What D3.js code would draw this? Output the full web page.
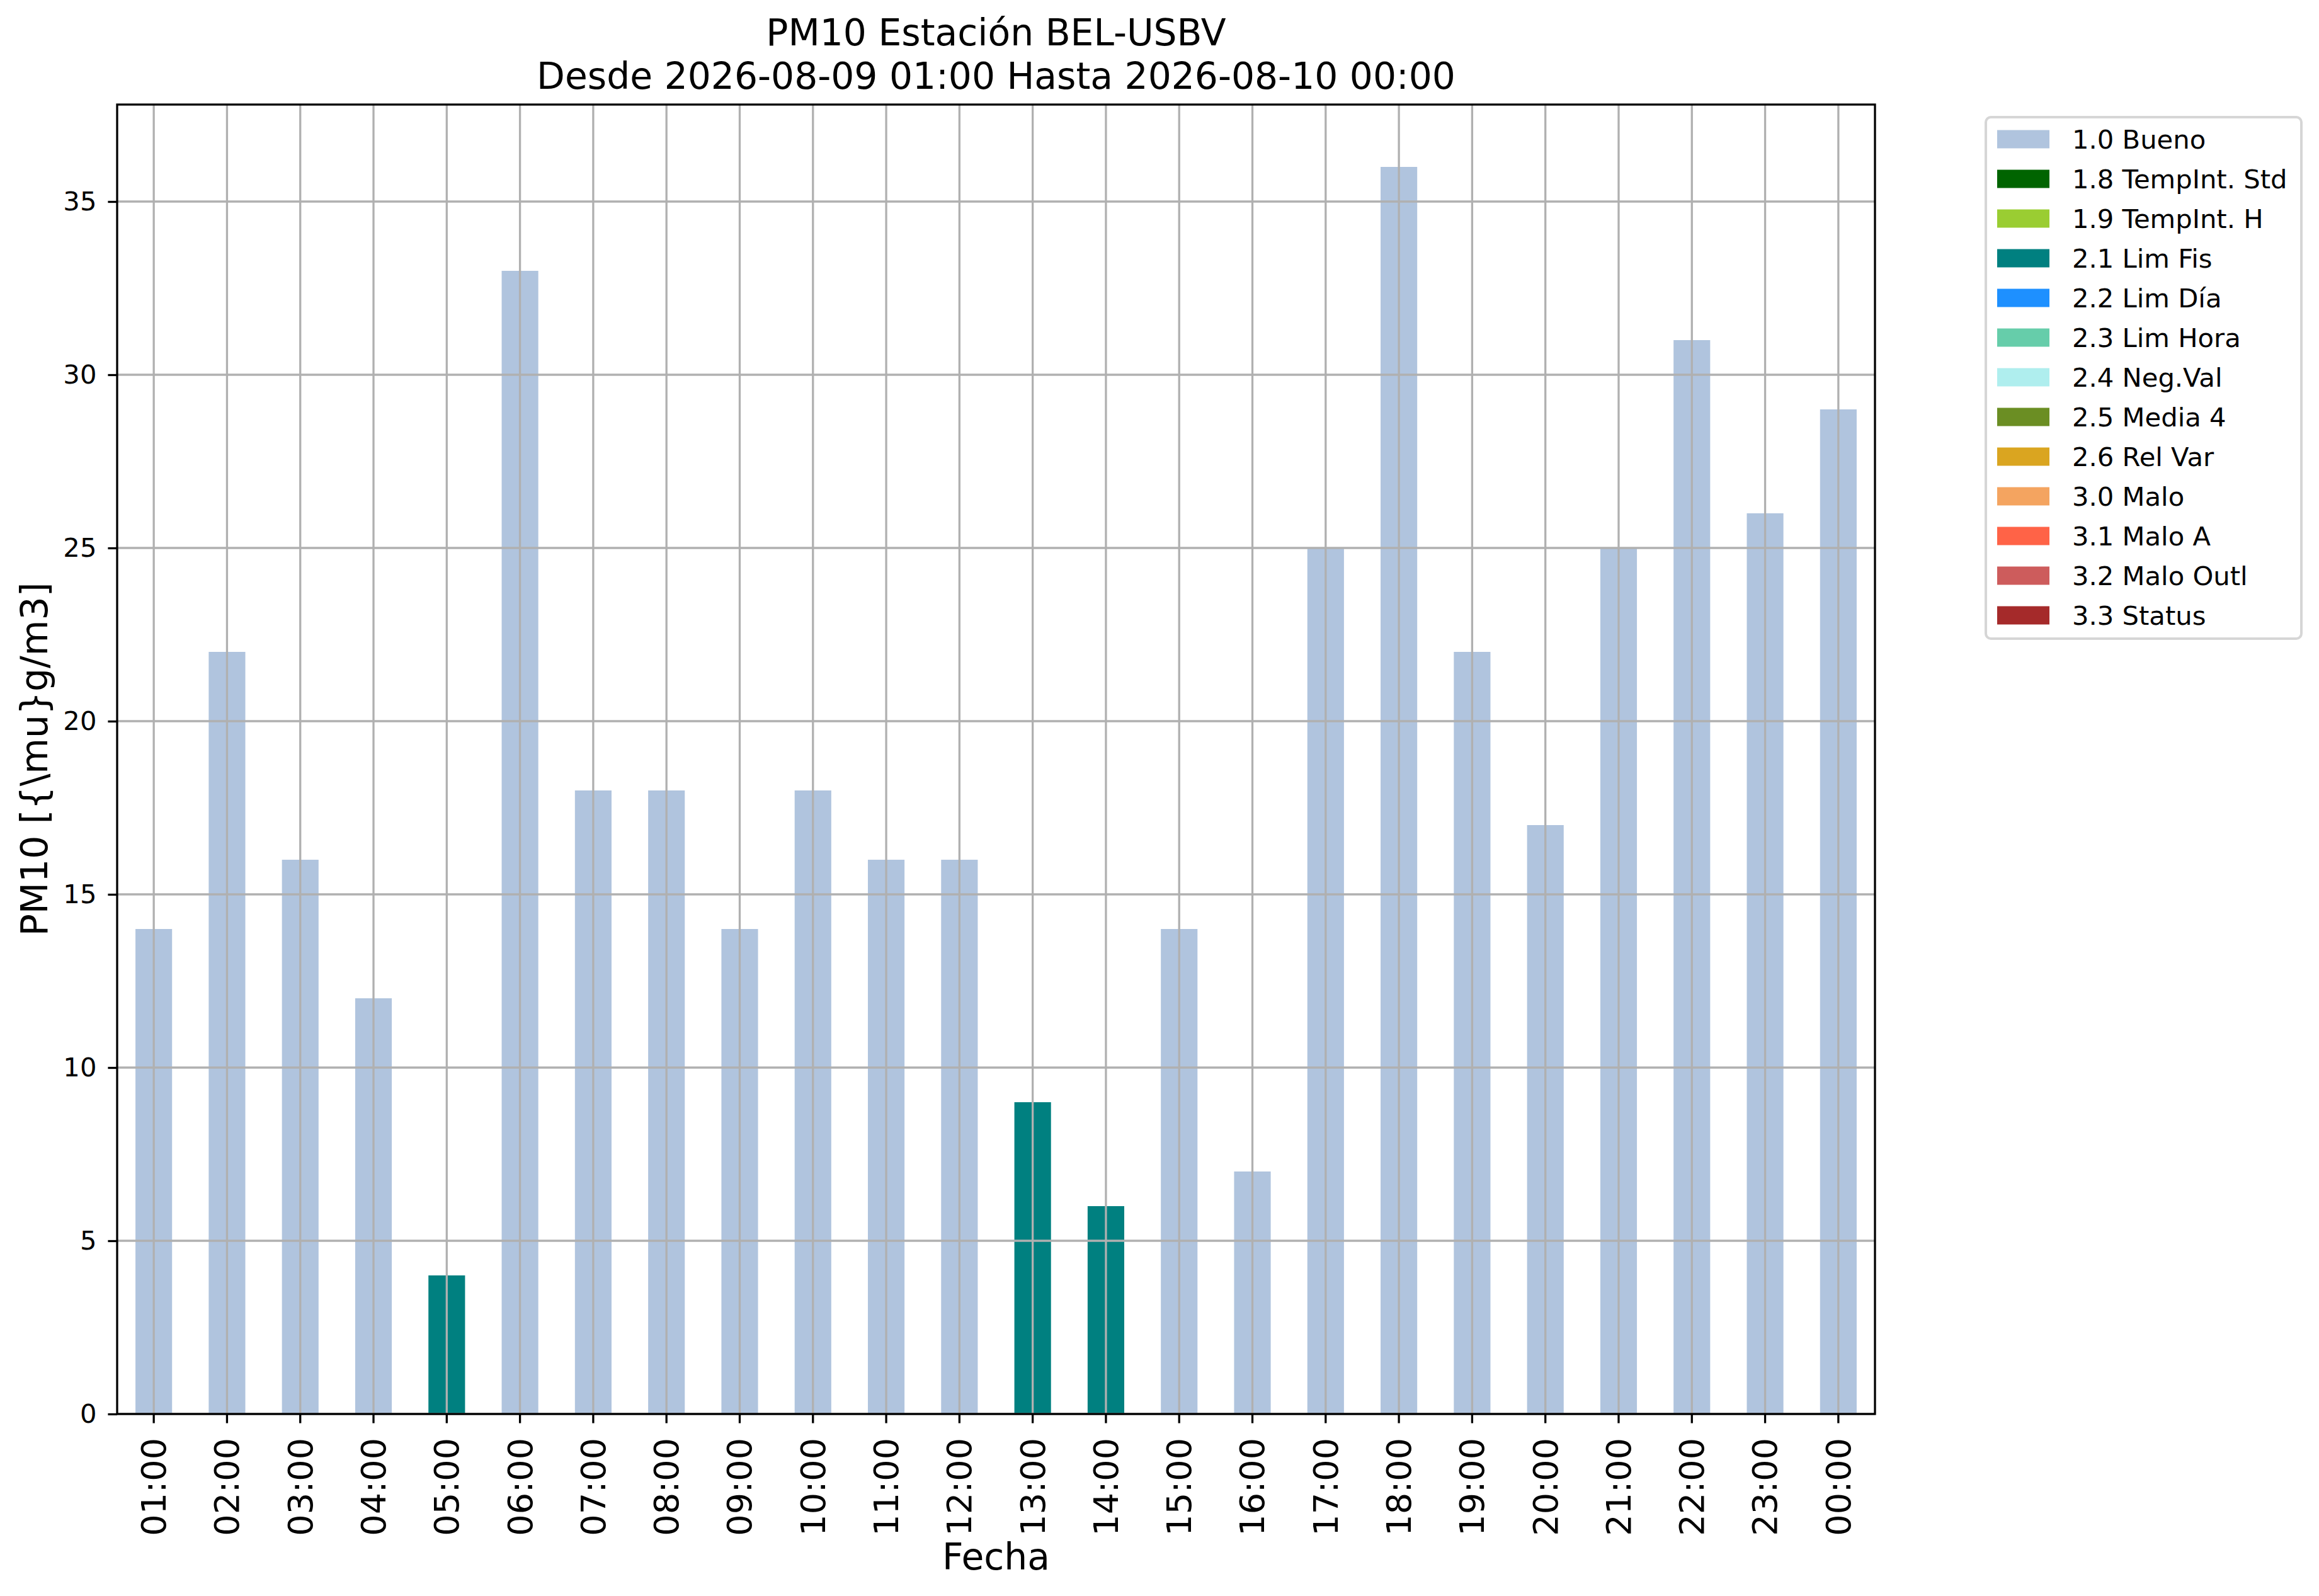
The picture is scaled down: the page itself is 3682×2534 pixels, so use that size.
<!DOCTYPE html>
<html>
<head>
<meta charset="utf-8">
<script src="https://cdn.jsdelivr.net/npm/d3@7"></script>
<style>
  body { margin: 0; background: #fff; }
  text { font-family: "DejaVu Sans", sans-serif; fill: #000; }
</style>
</head>
<body>
<div id="chart"></div>
<script>
var width = 3682;
var height = 2534;

// hourly labels and PM10 values
var hours = ["01:00","02:00","03:00","04:00","05:00","06:00","07:00","08:00",
             "09:00","10:00","11:00","12:00","13:00","14:00","15:00","16:00",
             "17:00","18:00","19:00","20:00","21:00","22:00","23:00","00:00"];
var values = [14, 22, 16, 12, 4, 33, 18, 18, 14, 18, 16, 16, 9, 6, 14, 7, 25, 36, 22, 17, 25, 31, 26, 29];
// validation flag of each hour
var flags = ["1.0","1.0","1.0","1.0","2.1","1.0","1.0","1.0","1.0","1.0","1.0","1.0",
             "2.1","2.1","1.0","1.0","1.0","1.0","1.0","1.0","1.0","1.0","1.0","1.0"];

var flagCodes = ["1.0","1.8","1.9","2.1","2.2","2.3","2.4","2.5","2.6","3.0","3.1","3.2","3.3"];
var flagNames = ["1.0 Bueno","1.8 TempInt. Std","1.9 TempInt. H","2.1 Lim Fis","2.2 Lim Día",
                 "2.3 Lim Hora","2.4 Neg.Val","2.5 Media 4","2.6 Rel Var","3.0 Malo",
                 "3.1 Malo A","3.2 Malo Outl","3.3 Status"];
var flagColors = ["#b0c4de","#006400","#9acd32","#008080","#1e90ff","#66cdaa","#afeeee",
                  "#6b8e23","#daa520","#f4a460","#ff6347","#cd5c5c","#a52a2a"];
var yTicks = [0, 5, 10, 15, 20, 25, 30, 35];

var margin = {left: 186, right: 2977, top: 166, bottom: 2245};

var color = d3.scaleOrdinal().domain(flagCodes).range(flagColors);

var xScale = d3.scaleBand()
    .domain(hours)
    .range([margin.left, margin.right])
    .paddingInner(0.5)
    .paddingOuter(0.25);

var yScale = d3.scaleLinear()
    .domain([0, d3.max(values) * 1.05])
    .range([margin.bottom, margin.top]);

var svg = d3.select("#chart").append("svg")
    .attr("width", width)
    .attr("height", height);

svg.append("rect")
    .attr("width", width)
    .attr("height", height)
    .style("fill", "#fff");

// bars
svg.selectAll(".bar")
    .data(values)
    .enter().append("rect")
    .attr("class", "bar")
    .attr("x", function(d, i) { return xScale(hours[i]); })
    .attr("width", xScale.bandwidth())
    .attr("y", function(d) { return yScale(d); })
    .attr("height", function(d) { return yScale(0) - yScale(d); })
    .style("fill", function(d, i) { return color(flags[i]); });

// grid on top of the bars
var grid = svg.append("g");
grid.selectAll(".vgrid")
    .data(hours)
    .enter().append("line")
    .attr("x1", function(d) { return xScale(d) + xScale.bandwidth() / 2; })
    .attr("x2", function(d) { return xScale(d) + xScale.bandwidth() / 2; })
    .attr("y1", margin.top)
    .attr("y2", margin.bottom)
    .style("stroke", "#b0b0b0")
    .style("stroke-width", 3.3);
grid.selectAll(".hgrid")
    .data(yTicks)
    .enter().append("line")
    .attr("x1", margin.left)
    .attr("x2", margin.right)
    .attr("y1", function(d) { return yScale(d); })
    .attr("y2", function(d) { return yScale(d); })
    .style("stroke", "#b0b0b0")
    .style("stroke-width", 3.3);

// axes
var xAxis = svg.append("g")
    .attr("transform", "translate(0," + margin.bottom + ")")
    .call(d3.axisBottom(xScale).tickSize(14.6).tickPadding(24).tickSizeOuter(0));
xAxis.select(".domain").remove();
xAxis.selectAll("line").style("stroke", "#000").style("stroke-width", 3.3);
xAxis.selectAll("text")
    .attr("font-size", 54)
    .attr("font-family", "DejaVu Sans")
    .attr("transform", "rotate(-90)")
    .attr("text-anchor", "end")
    .attr("x", -38)
    .attr("y", 0)
    .attr("dy", "0.35em");

var yAxis = svg.append("g")
    .attr("transform", "translate(" + margin.left + ",0)")
    .call(d3.axisLeft(yScale).tickValues(yTicks).tickSize(14.6).tickPadding(18).tickSizeOuter(0));
yAxis.select(".domain").remove();
yAxis.selectAll("line").style("stroke", "#000").style("stroke-width", 3.3);
yAxis.selectAll("text")
    .attr("font-size", 41.7)
    .attr("font-family", "DejaVu Sans");

// frame
svg.append("rect")
    .attr("x", margin.left)
    .attr("y", margin.top)
    .attr("width", margin.right - margin.left)
    .attr("height", margin.bottom - margin.top)
    .style("fill", "none")
    .style("stroke", "#000")
    .style("stroke-width", 3.3);

// titles
var cx = (margin.left + margin.right) / 2;
svg.append("text")
    .attr("x", cx).attr("y", 72)
    .attr("text-anchor", "middle")
    .attr("font-size", 58.3)
    .text("PM10 Estación BEL-USBV");
svg.append("text")
    .attr("x", cx).attr("y", 141)
    .attr("text-anchor", "middle")
    .attr("font-size", 58.3)
    .text("Desde 2026-08-09 01:00 Hasta 2026-08-10 00:00");

svg.append("text")
    .attr("x", cx).attr("y", 2492)
    .attr("text-anchor", "middle")
    .attr("font-size", 58.3)
    .text("Fecha");

svg.append("text")
    .attr("transform", "translate(75," + ((margin.top + margin.bottom) / 2) + ") rotate(-90)")
    .attr("text-anchor", "middle")
    .attr("font-size", 58.3)
    .text("PM10 [{\\mu}g/m3]");

// legend
var legend = svg.append("g").attr("transform", "translate(3153,186)");
legend.append("rect")
    .attr("width", 501)
    .attr("height", 828)
    .attr("rx", 8)
    .style("fill", "#fff")
    .style("stroke", "#d6d6d6")
    .style("stroke-width", 4);

var rows = legend.selectAll(".row")
    .data(flagNames)
    .enter().append("g")
    .attr("transform", function(d, i) { return "translate(0," + (35 + i * 63) + ")"; });
rows.append("rect")
    .attr("x", 18)
    .attr("y", -14.5)
    .attr("width", 83)
    .attr("height", 29)
    .style("fill", function(d, i) { return flagColors[i]; });
rows.append("text")
    .attr("x", 137)
    .attr("y", 15)
    .attr("font-size", 41.7)
    .text(function(d) { return d; });
</script>
</body>
</html>
